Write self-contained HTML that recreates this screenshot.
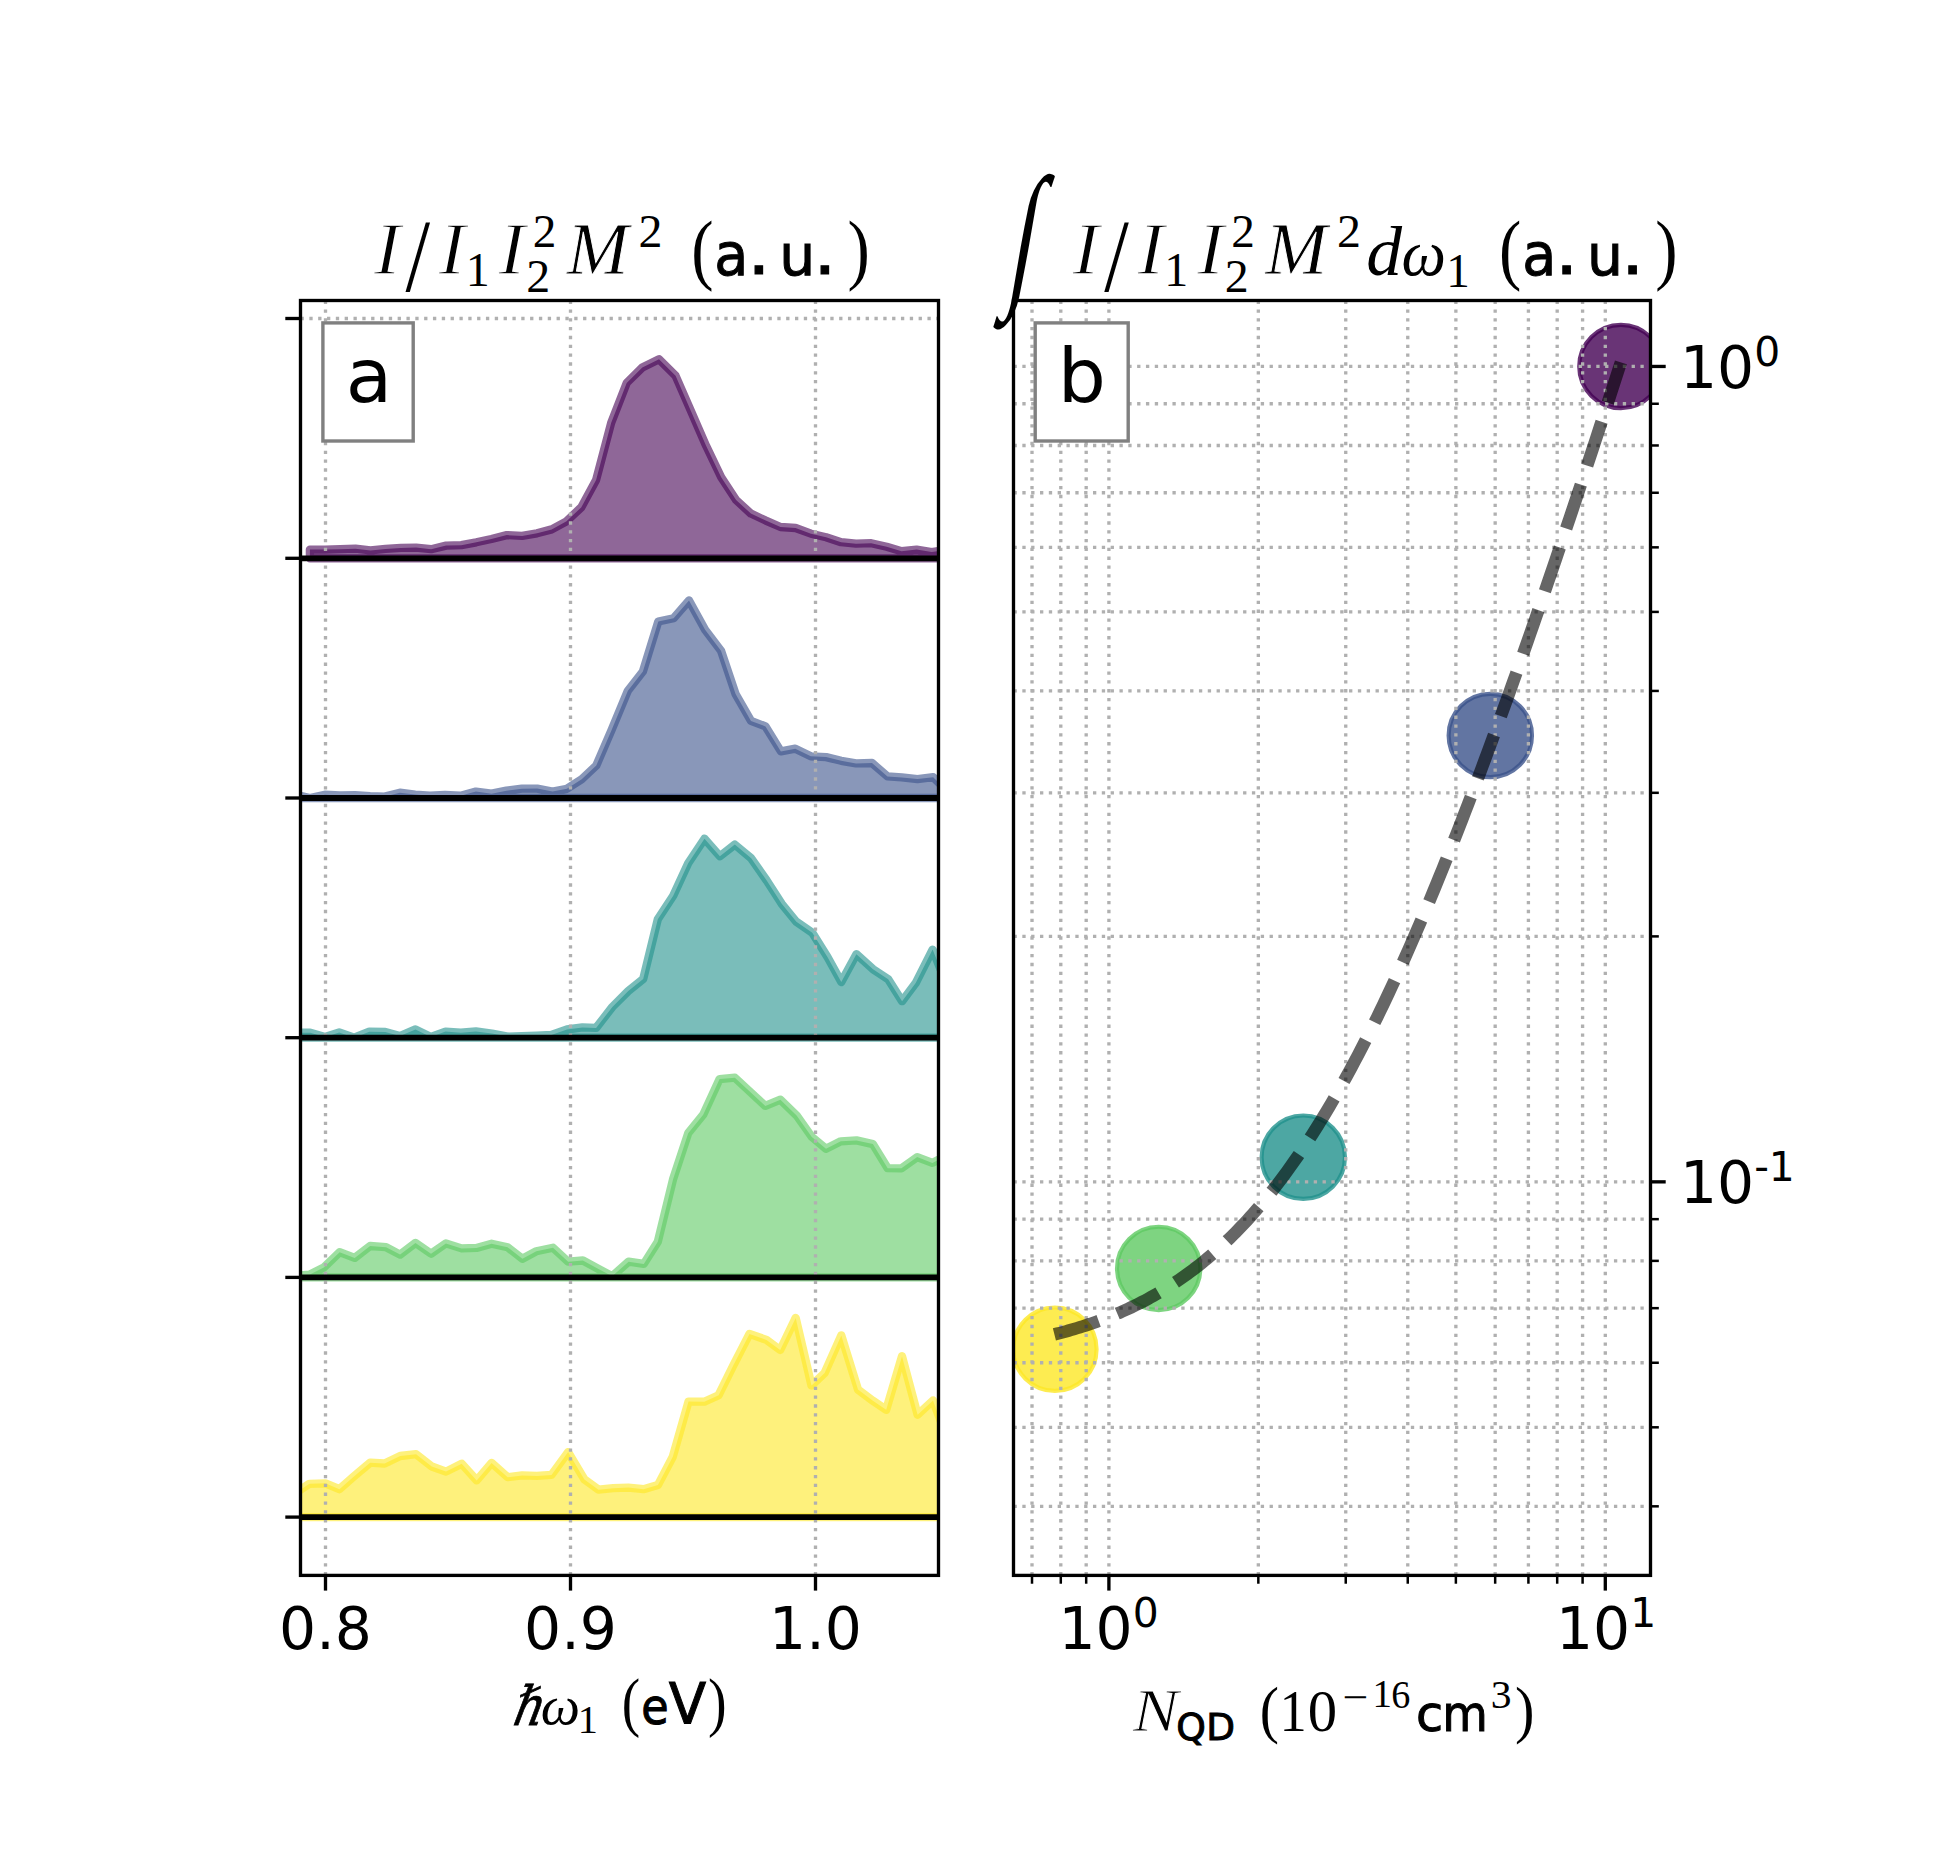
<!DOCTYPE html>
<html><head><meta charset="utf-8"><title>figure</title><style>html,body{margin:0;padding:0;background:#fff}svg{display:block}text{fill:#000}</style></head><body>
<svg width="1950" height="1875" viewBox="0 0 1950 1875">
<rect width="1950" height="1875" fill="#fff"/>
<defs><clipPath id="ca"><rect x="300.5" y="300.5" width="638.0" height="1274.9"/></clipPath><clipPath id="cb"><rect x="1013.5" y="300.5" width="637.0" height="1274.9"/></clipPath></defs>
<text transform="translate(1005.14,287.17) skewX(-10) scale(0.8273,1.4167)" font-family="Liberation Serif, serif" font-style="normal" font-size="112.00">∫</text>
<g clip-path="url(#ca)">
<path d="M309.9,549.6 L325.0,549.6 L340.1,549.2 L355.5,548.7 L370.5,550.4 L385.5,548.9 L400.8,547.9 L416.1,547.6 L431.1,549.2 L446.1,545.6 L461.3,545.2 L476.3,542.3 L491.4,539.0 L506.8,535.1 L522.1,535.9 L537.0,533.3 L551.7,529.4 L566.5,521.3 L581.2,507.4 L596.1,480.0 L611.2,422.7 L626.7,382.9 L642.3,367.5 L659.0,359.2 L675.6,375.8 L690.9,410.9 L706.1,445.8 L721.2,477.3 L736.1,500.0 L750.9,513.6 L765.8,520.6 L780.5,527.0 L795.6,528.0 L811.0,533.7 L826.1,537.2 L841.1,542.2 L856.0,543.7 L871.2,543.2 L886.7,546.7 L901.6,551.2 L916.6,549.6 L931.7,552.1 L946.6,549.7 L946.6,558.3 L309.9,558.3 Z" fill="#440154" fill-opacity="0.6" stroke="#440154" stroke-opacity="0.6" stroke-width="8.33" stroke-linejoin="round"/>
<path d="M295.2,794.8 L310.0,798.1 L324.8,794.7 L340.0,795.4 L355.1,795.1 L370.1,796.2 L384.8,796.6 L399.9,792.7 L415.2,794.6 L430.0,795.7 L445.0,794.9 L460.6,795.7 L475.9,791.6 L491.6,793.7 L506.4,790.7 L521.9,788.7 L537.2,788.6 L552.5,791.6 L566.9,788.8 L581.7,779.2 L596.3,765.5 L611.3,730.7 L627.9,690.7 L642.9,671.5 L658.3,621.5 L673.6,618.2 L689.0,600.4 L705.1,629.7 L721.0,650.7 L735.6,694.1 L751.0,720.9 L765.5,726.4 L780.9,751.4 L795.3,748.7 L810.8,756.3 L826.1,757.1 L841.2,760.8 L856.0,763.4 L872.0,763.0 L887.5,776.4 L901.9,777.4 L917.5,779.1 L933.2,777.2 L948.4,792.1 L948.4,798.0 L295.2,798.0 Z" fill="#3b528b" fill-opacity="0.6" stroke="#3b528b" stroke-opacity="0.6" stroke-width="8.33" stroke-linejoin="round"/>
<path d="M294.7,1032.7 L310.3,1032.7 L325.0,1036.9 L339.2,1032.4 L354.2,1037.7 L369.3,1031.7 L385.3,1031.9 L399.9,1036.1 L415.5,1029.4 L430.9,1036.9 L445.5,1031.6 L460.8,1032.7 L475.9,1031.4 L492.0,1033.6 L507.7,1036.6 L521.6,1036.1 L536.6,1035.7 L551.3,1035.0 L567.0,1029.5 L582.4,1027.4 L596.1,1027.9 L612.4,1006.9 L628.3,991.0 L643.2,978.9 L657.8,919.2 L673.2,895.7 L688.2,863.2 L704.5,838.7 L719.9,856.2 L734.8,844.6 L751.2,858.3 L766.7,880.5 L781.7,903.8 L796.4,921.8 L812.3,932.8 L827.6,957.2 L841.3,982.1 L856.4,954.2 L873.0,969.2 L888.2,979.3 L902.1,1001.2 L915.7,983.1 L932.6,949.6 L949.4,991.0 L949.4,1037.7 L294.7,1037.7 Z" fill="#21918c" fill-opacity="0.6" stroke="#21918c" stroke-opacity="0.6" stroke-width="8.33" stroke-linejoin="round"/>
<path d="M294.6,1275.7 L309.4,1274.7 L323.8,1267.5 L339.6,1252.2 L354.7,1257.9 L370.1,1246.0 L386.1,1247.2 L400.1,1254.6 L415.5,1242.9 L431.0,1253.7 L445.9,1243.4 L461.6,1248.4 L476.4,1247.9 L491.6,1243.7 L507.6,1247.3 L522.4,1258.7 L536.3,1251.3 L553.0,1247.7 L568.2,1261.7 L582.9,1260.5 L598.5,1269.0 L612.2,1276.2 L628.6,1261.7 L643.8,1263.9 L657.8,1241.7 L673.0,1179.4 L688.2,1133.2 L703.2,1114.7 L719.6,1079.1 L734.9,1077.7 L751.1,1092.7 L765.3,1105.9 L780.4,1099.7 L796.6,1115.4 L811.8,1136.9 L826.0,1148.7 L840.8,1141.3 L856.5,1140.4 L872.9,1144.1 L887.7,1168.2 L901.4,1168.3 L917.2,1157.1 L932.4,1162.9 L946.6,1155.6 L946.6,1277.4 L294.6,1277.4 Z" fill="#5ec962" fill-opacity="0.6" stroke="#5ec962" stroke-opacity="0.6" stroke-width="8.33" stroke-linejoin="round"/>
<path d="M293.5,1494.3 L309.4,1483.8 L325.4,1483.3 L339.4,1489.2 L353.6,1476.7 L370.1,1462.7 L384.6,1463.5 L400.2,1456.0 L416.1,1454.2 L431.8,1466.5 L446.0,1471.6 L461.7,1463.7 L476.7,1480.4 L491.6,1462.9 L507.7,1477.2 L522.1,1475.4 L536.9,1475.9 L551.5,1474.9 L568.1,1452.1 L584.4,1479.4 L598.5,1489.7 L613.2,1488.2 L628.4,1487.6 L643.5,1489.2 L657.9,1485.1 L672.8,1456.7 L688.5,1401.6 L704.3,1401.7 L718.6,1395.2 L733.1,1365.8 L749.5,1333.9 L766.5,1339.9 L780.2,1350.0 L795.7,1317.9 L811.5,1385.5 L824.6,1373.0 L841.3,1335.4 L858.0,1389.6 L872.9,1400.8 L886.2,1409.8 L902.0,1356.2 L917.6,1414.7 L933.0,1400.5 L949.5,1444.3 L949.5,1517.1 L293.5,1517.1 Z" fill="#fde725" fill-opacity="0.6" stroke="#fde725" stroke-opacity="0.6" stroke-width="8.33" stroke-linejoin="round"/>
</g>
<path d="M325.50,1575.4 V300.5" stroke="#b0b0b0" stroke-width="3.33" stroke-dasharray="3.33 5.5" fill="none" clip-path="url(#ca)"/>
<path d="M570.50,1575.4 V300.5" stroke="#b0b0b0" stroke-width="3.33" stroke-dasharray="3.33 5.5" fill="none" clip-path="url(#ca)"/>
<path d="M815.50,1575.4 V300.5" stroke="#b0b0b0" stroke-width="3.33" stroke-dasharray="3.33 5.5" fill="none" clip-path="url(#ca)"/>
<path d="M300.5,318.50 H938.5" stroke="#b0b0b0" stroke-width="3.33" stroke-dasharray="3.33 5.5" fill="none" clip-path="url(#ca)"/>
<path d="M300.5,558.30 H938.5" stroke="#b0b0b0" stroke-width="3.33" stroke-dasharray="3.33 5.5" fill="none" clip-path="url(#ca)"/>
<path d="M300.5,798.00 H938.5" stroke="#b0b0b0" stroke-width="3.33" stroke-dasharray="3.33 5.5" fill="none" clip-path="url(#ca)"/>
<path d="M300.5,1037.70 H938.5" stroke="#b0b0b0" stroke-width="3.33" stroke-dasharray="3.33 5.5" fill="none" clip-path="url(#ca)"/>
<path d="M300.5,1277.40 H938.5" stroke="#b0b0b0" stroke-width="3.33" stroke-dasharray="3.33 5.5" fill="none" clip-path="url(#ca)"/>
<path d="M300.5,1517.10 H938.5" stroke="#b0b0b0" stroke-width="3.33" stroke-dasharray="3.33 5.5" fill="none" clip-path="url(#ca)"/>
<path d="M300.5,558.3 H938.5" stroke="#000" stroke-width="5.83" fill="none"/>
<path d="M300.5,798.0 H938.5" stroke="#000" stroke-width="5.83" fill="none"/>
<path d="M300.5,1037.7 H938.5" stroke="#000" stroke-width="5.83" fill="none"/>
<path d="M300.5,1277.4 H938.5" stroke="#000" stroke-width="5.83" fill="none"/>
<path d="M300.5,1517.1 H938.5" stroke="#000" stroke-width="5.83" fill="none"/>
<path d="M325.5,1575.4 v15.2" stroke="#000" stroke-width="3.33"/>
<path d="M570.5,1575.4 v15.2" stroke="#000" stroke-width="3.33"/>
<path d="M815.5,1575.4 v15.2" stroke="#000" stroke-width="3.33"/>
<path d="M300.5,318.5 h-15.2" stroke="#000" stroke-width="3.33"/>
<path d="M300.5,558.3 h-15.2" stroke="#000" stroke-width="3.33"/>
<path d="M300.5,798.0 h-15.2" stroke="#000" stroke-width="3.33"/>
<path d="M300.5,1037.7 h-15.2" stroke="#000" stroke-width="3.33"/>
<path d="M300.5,1277.4 h-15.2" stroke="#000" stroke-width="3.33"/>
<path d="M300.5,1517.1 h-15.2" stroke="#000" stroke-width="3.33"/>
<rect x="300.5" y="300.5" width="638.0" height="1274.9" fill="none" stroke="#000" stroke-width="3.33"/>
<g clip-path="url(#cb)">
<circle cx="1620.9" cy="366.5" r="41.67" fill="#440154" fill-opacity="0.8" stroke="#440154" stroke-opacity="0.8" stroke-width="4.17"/>
<circle cx="1490.3" cy="735.5" r="41.67" fill="#3b528b" fill-opacity="0.8" stroke="#3b528b" stroke-opacity="0.8" stroke-width="4.17"/>
<circle cx="1303.3" cy="1157.2" r="41.67" fill="#21918c" fill-opacity="0.8" stroke="#21918c" stroke-opacity="0.8" stroke-width="4.17"/>
<circle cx="1158.7" cy="1268.4" r="41.67" fill="#5ec962" fill-opacity="0.8" stroke="#5ec962" stroke-opacity="0.8" stroke-width="4.17"/>
<circle cx="1054.9" cy="1349.2" r="41.67" fill="#fde725" fill-opacity="0.8" stroke="#fde725" stroke-opacity="0.8" stroke-width="4.17"/>
</g>
<path d="M1108.90,1575.4 V300.5" stroke="#b0b0b0" stroke-width="3.33" stroke-dasharray="3.33 5.5" fill="none" clip-path="url(#cb)"/>
<path d="M1605.30,1575.4 V300.5" stroke="#b0b0b0" stroke-width="3.33" stroke-dasharray="3.33 5.5" fill="none" clip-path="url(#cb)"/>
<path d="M1032.01,1575.4 V300.5" stroke="#b0b0b0" stroke-width="3.33" stroke-dasharray="3.33 5.5" fill="none" clip-path="url(#cb)"/>
<path d="M1060.79,1575.4 V300.5" stroke="#b0b0b0" stroke-width="3.33" stroke-dasharray="3.33 5.5" fill="none" clip-path="url(#cb)"/>
<path d="M1086.19,1575.4 V300.5" stroke="#b0b0b0" stroke-width="3.33" stroke-dasharray="3.33 5.5" fill="none" clip-path="url(#cb)"/>
<path d="M1258.33,1575.4 V300.5" stroke="#b0b0b0" stroke-width="3.33" stroke-dasharray="3.33 5.5" fill="none" clip-path="url(#cb)"/>
<path d="M1345.74,1575.4 V300.5" stroke="#b0b0b0" stroke-width="3.33" stroke-dasharray="3.33 5.5" fill="none" clip-path="url(#cb)"/>
<path d="M1407.76,1575.4 V300.5" stroke="#b0b0b0" stroke-width="3.33" stroke-dasharray="3.33 5.5" fill="none" clip-path="url(#cb)"/>
<path d="M1455.87,1575.4 V300.5" stroke="#b0b0b0" stroke-width="3.33" stroke-dasharray="3.33 5.5" fill="none" clip-path="url(#cb)"/>
<path d="M1495.17,1575.4 V300.5" stroke="#b0b0b0" stroke-width="3.33" stroke-dasharray="3.33 5.5" fill="none" clip-path="url(#cb)"/>
<path d="M1528.41,1575.4 V300.5" stroke="#b0b0b0" stroke-width="3.33" stroke-dasharray="3.33 5.5" fill="none" clip-path="url(#cb)"/>
<path d="M1557.19,1575.4 V300.5" stroke="#b0b0b0" stroke-width="3.33" stroke-dasharray="3.33 5.5" fill="none" clip-path="url(#cb)"/>
<path d="M1582.59,1575.4 V300.5" stroke="#b0b0b0" stroke-width="3.33" stroke-dasharray="3.33 5.5" fill="none" clip-path="url(#cb)"/>
<path d="M1013.5,366.45 H1650.5" stroke="#b0b0b0" stroke-width="3.33" stroke-dasharray="3.33 5.5" fill="none" clip-path="url(#cb)"/>
<path d="M1013.5,1181.85 H1650.5" stroke="#b0b0b0" stroke-width="3.33" stroke-dasharray="3.33 5.5" fill="none" clip-path="url(#cb)"/>
<path d="M1013.5,403.76 H1650.5" stroke="#b0b0b0" stroke-width="3.33" stroke-dasharray="3.33 5.5" fill="none" clip-path="url(#cb)"/>
<path d="M1013.5,445.47 H1650.5" stroke="#b0b0b0" stroke-width="3.33" stroke-dasharray="3.33 5.5" fill="none" clip-path="url(#cb)"/>
<path d="M1013.5,492.76 H1650.5" stroke="#b0b0b0" stroke-width="3.33" stroke-dasharray="3.33 5.5" fill="none" clip-path="url(#cb)"/>
<path d="M1013.5,547.35 H1650.5" stroke="#b0b0b0" stroke-width="3.33" stroke-dasharray="3.33 5.5" fill="none" clip-path="url(#cb)"/>
<path d="M1013.5,611.91 H1650.5" stroke="#b0b0b0" stroke-width="3.33" stroke-dasharray="3.33 5.5" fill="none" clip-path="url(#cb)"/>
<path d="M1013.5,690.93 H1650.5" stroke="#b0b0b0" stroke-width="3.33" stroke-dasharray="3.33 5.5" fill="none" clip-path="url(#cb)"/>
<path d="M1013.5,792.81 H1650.5" stroke="#b0b0b0" stroke-width="3.33" stroke-dasharray="3.33 5.5" fill="none" clip-path="url(#cb)"/>
<path d="M1013.5,936.39 H1650.5" stroke="#b0b0b0" stroke-width="3.33" stroke-dasharray="3.33 5.5" fill="none" clip-path="url(#cb)"/>
<path d="M1013.5,1219.16 H1650.5" stroke="#b0b0b0" stroke-width="3.33" stroke-dasharray="3.33 5.5" fill="none" clip-path="url(#cb)"/>
<path d="M1013.5,1260.87 H1650.5" stroke="#b0b0b0" stroke-width="3.33" stroke-dasharray="3.33 5.5" fill="none" clip-path="url(#cb)"/>
<path d="M1013.5,1308.16 H1650.5" stroke="#b0b0b0" stroke-width="3.33" stroke-dasharray="3.33 5.5" fill="none" clip-path="url(#cb)"/>
<path d="M1013.5,1362.75 H1650.5" stroke="#b0b0b0" stroke-width="3.33" stroke-dasharray="3.33 5.5" fill="none" clip-path="url(#cb)"/>
<path d="M1013.5,1427.31 H1650.5" stroke="#b0b0b0" stroke-width="3.33" stroke-dasharray="3.33 5.5" fill="none" clip-path="url(#cb)"/>
<path d="M1013.5,1506.33 H1650.5" stroke="#b0b0b0" stroke-width="3.33" stroke-dasharray="3.33 5.5" fill="none" clip-path="url(#cb)"/>
<path d="M1054.40,1334.40 L1057.23,1333.68 L1060.07,1332.94 L1062.90,1332.19 L1065.73,1331.41 L1068.56,1330.62 L1071.40,1329.81 L1074.23,1328.98 L1077.06,1328.13 L1079.89,1327.25 L1082.73,1326.36 L1085.56,1325.45 L1088.39,1324.51 L1091.22,1323.55 L1094.06,1322.57 L1096.89,1321.57 L1099.72,1320.54 L1102.55,1319.48 L1105.38,1318.41 L1108.22,1317.30 L1111.05,1316.17 L1113.88,1315.02 L1116.72,1313.84 L1119.55,1312.63 L1122.38,1311.39 L1125.21,1310.12 L1128.05,1308.83 L1130.88,1307.50 L1133.71,1306.15 L1136.54,1304.76 L1139.38,1303.35 L1142.21,1301.90 L1145.04,1300.42 L1147.87,1298.90 L1150.71,1297.36 L1153.54,1295.78 L1156.37,1294.16 L1159.20,1292.51 L1162.04,1290.82 L1164.87,1289.09 L1167.70,1287.33 L1170.53,1285.53 L1173.37,1283.70 L1176.20,1281.82 L1179.03,1279.90 L1181.86,1277.94 L1184.70,1275.95 L1187.53,1273.91 L1190.36,1271.83 L1193.19,1269.70 L1196.03,1267.53 L1198.86,1265.32 L1201.69,1263.06 L1204.52,1260.76 L1207.36,1258.42 L1210.19,1256.02 L1213.02,1253.58 L1215.85,1251.09 L1218.69,1248.56 L1221.52,1245.97 L1224.35,1243.34 L1227.18,1240.65 L1230.02,1237.92 L1232.85,1235.13 L1235.68,1232.29 L1238.51,1229.40 L1241.35,1226.46 L1244.18,1223.46 L1247.01,1220.41 L1249.84,1217.31 L1252.68,1214.15 L1255.51,1210.94 L1258.34,1207.67 L1261.17,1204.35 L1264.01,1200.97 L1266.84,1197.53 L1269.67,1194.03 L1272.50,1190.48 L1275.34,1186.87 L1278.17,1183.20 L1281.00,1179.48 L1283.83,1175.69 L1286.66,1171.84 L1289.50,1167.94 L1292.33,1163.98 L1295.16,1159.95 L1298.00,1155.87 L1300.83,1151.72 L1303.66,1147.52 L1306.49,1143.25 L1309.33,1138.93 L1312.16,1134.54 L1314.99,1130.09 L1317.82,1125.58 L1320.66,1121.01 L1323.49,1116.38 L1326.32,1111.69 L1329.15,1106.94 L1331.99,1102.12 L1334.82,1097.25 L1337.65,1092.31 L1340.48,1087.31 L1343.32,1082.25 L1346.15,1077.13 L1348.98,1071.95 L1351.81,1066.72 L1354.64,1061.42 L1357.48,1056.06 L1360.31,1050.64 L1363.14,1045.16 L1365.98,1039.62 L1368.81,1034.03 L1371.64,1028.37 L1374.47,1022.66 L1377.31,1016.89 L1380.14,1011.06 L1382.97,1005.17 L1385.80,999.23 L1388.63,993.23 L1391.47,987.18 L1394.30,981.07 L1397.13,974.91 L1399.97,968.69 L1402.80,962.42 L1405.63,956.09 L1408.46,949.71 L1411.30,943.28 L1414.13,936.80 L1416.96,930.26 L1419.79,923.68 L1422.62,917.04 L1425.46,910.36 L1428.29,903.62 L1431.12,896.84 L1433.96,890.01 L1436.79,883.13 L1439.62,876.20 L1442.45,869.23 L1445.29,862.21 L1448.12,855.15 L1450.95,848.04 L1453.78,840.89 L1456.62,833.70 L1459.45,826.46 L1462.28,819.18 L1465.11,811.86 L1467.95,804.50 L1470.78,797.10 L1473.61,789.66 L1476.44,782.18 L1479.28,774.67 L1482.11,767.11 L1484.94,759.52 L1487.77,751.89 L1490.61,744.23 L1493.44,736.53 L1496.27,728.79 L1499.10,721.02 L1501.94,713.22 L1504.77,705.39 L1507.60,697.52 L1510.43,689.62 L1513.27,681.69 L1516.10,673.73 L1518.93,665.74 L1521.76,657.72 L1524.60,649.68 L1527.43,641.60 L1530.26,633.50 L1533.09,625.36 L1535.93,617.21 L1538.76,609.02 L1541.59,600.81 L1544.42,592.58 L1547.26,584.32 L1550.09,576.03 L1552.92,567.73 L1555.75,559.39 L1558.59,551.04 L1561.42,542.67 L1564.25,534.27 L1567.08,525.85 L1569.91,517.41 L1572.75,508.95 L1575.58,500.47 L1578.41,491.97 L1581.25,483.45 L1584.08,474.91 L1586.91,466.36 L1589.74,457.79 L1592.58,449.19 L1595.41,440.59 L1598.24,431.96 L1601.07,423.32 L1603.91,414.66 L1606.74,405.99 L1609.57,397.30 L1612.40,388.60 L1615.24,379.88 L1618.07,371.15 L1620.90,362.40" fill="none" stroke="#000" stroke-opacity="0.6" stroke-width="12.5" stroke-dasharray="46.25 20" clip-path="url(#cb)"/>
<path d="M1108.90,1575.4 v15.2" stroke="#000" stroke-width="3.33"/>
<path d="M1605.30,1575.4 v15.2" stroke="#000" stroke-width="3.33"/>
<path d="M1032.01,1575.4 v8.33" stroke="#000" stroke-width="2.5"/>
<path d="M1060.79,1575.4 v8.33" stroke="#000" stroke-width="2.5"/>
<path d="M1086.19,1575.4 v8.33" stroke="#000" stroke-width="2.5"/>
<path d="M1258.33,1575.4 v8.33" stroke="#000" stroke-width="2.5"/>
<path d="M1345.74,1575.4 v8.33" stroke="#000" stroke-width="2.5"/>
<path d="M1407.76,1575.4 v8.33" stroke="#000" stroke-width="2.5"/>
<path d="M1455.87,1575.4 v8.33" stroke="#000" stroke-width="2.5"/>
<path d="M1495.17,1575.4 v8.33" stroke="#000" stroke-width="2.5"/>
<path d="M1528.41,1575.4 v8.33" stroke="#000" stroke-width="2.5"/>
<path d="M1557.19,1575.4 v8.33" stroke="#000" stroke-width="2.5"/>
<path d="M1582.59,1575.4 v8.33" stroke="#000" stroke-width="2.5"/>
<path d="M1650.5,366.45 h15.2" stroke="#000" stroke-width="3.33"/>
<path d="M1650.5,1181.85 h15.2" stroke="#000" stroke-width="3.33"/>
<path d="M1650.5,403.76 h8.33" stroke="#000" stroke-width="2.5"/>
<path d="M1650.5,445.47 h8.33" stroke="#000" stroke-width="2.5"/>
<path d="M1650.5,492.76 h8.33" stroke="#000" stroke-width="2.5"/>
<path d="M1650.5,547.35 h8.33" stroke="#000" stroke-width="2.5"/>
<path d="M1650.5,611.91 h8.33" stroke="#000" stroke-width="2.5"/>
<path d="M1650.5,690.93 h8.33" stroke="#000" stroke-width="2.5"/>
<path d="M1650.5,792.81 h8.33" stroke="#000" stroke-width="2.5"/>
<path d="M1650.5,936.39 h8.33" stroke="#000" stroke-width="2.5"/>
<path d="M1650.5,1219.16 h8.33" stroke="#000" stroke-width="2.5"/>
<path d="M1650.5,1260.87 h8.33" stroke="#000" stroke-width="2.5"/>
<path d="M1650.5,1308.16 h8.33" stroke="#000" stroke-width="2.5"/>
<path d="M1650.5,1362.75 h8.33" stroke="#000" stroke-width="2.5"/>
<path d="M1650.5,1427.31 h8.33" stroke="#000" stroke-width="2.5"/>
<path d="M1650.5,1506.33 h8.33" stroke="#000" stroke-width="2.5"/>
<rect x="1013.5" y="300.5" width="637.0" height="1274.9" fill="none" stroke="#000" stroke-width="3.33"/>
<rect x="322.9" y="322.9" width="90.3" height="118.1" fill="#fff" stroke="#808080" stroke-width="3.4"/>
<rect x="1035.2" y="322.9" width="93" height="118.1" fill="#fff" stroke="#808080" stroke-width="3.4"/>
<text transform="translate(345.75,401.75) scale(1.0214,1.0000)" font-family="DejaVu Sans, sans-serif" font-style="normal" font-size="74.19">a</text>
<text transform="translate(1057.71,401.74) scale(1.0153,1.0000)" font-family="DejaVu Sans, sans-serif" font-style="normal" font-size="74.68">b</text>
<text x="325.50" y="1649.20" font-family="DejaVu Sans, sans-serif" font-size="58.33" text-anchor="middle">0.8</text>
<text x="570.50" y="1649.20" font-family="DejaVu Sans, sans-serif" font-size="58.33" text-anchor="middle">0.9</text>
<text x="815.50" y="1649.20" font-family="DejaVu Sans, sans-serif" font-size="58.33" text-anchor="middle">1.0</text>
<text x="1058.40" y="1649.40" font-family="DejaVu Sans, sans-serif" font-size="58.33">10<tspan font-size="40.83" dy="-22.5">0</tspan></text>
<text x="1555.90" y="1649.40" font-family="DejaVu Sans, sans-serif" font-size="58.33">10<tspan font-size="40.83" dy="-22.5">1</tspan></text>
<text x="1679.90" y="388.10" font-family="DejaVu Sans, sans-serif" font-size="58.33">10<tspan font-size="40.83" dy="-22.5">0</tspan></text>
<text x="1679.90" y="1203.30" font-family="DejaVu Sans, sans-serif" font-size="58.33">10<tspan font-size="40.83" dy="-22.5">-1</tspan></text>
<text transform="translate(373.75,274.30) scale(1.1200,1.0000)" font-family="Liberation Serif, serif" font-style="italic" font-size="73.00" stroke="#fff" stroke-width="1.5">I</text>
<text transform="translate(405.62,290.99) scale(1.3000,1.5279)" font-family="Liberation Serif, serif" font-style="normal" font-size="68.00">/</text>
<text transform="translate(438.60,274.30) scale(1.1200,1.0000)" font-family="Liberation Serif, serif" font-style="italic" font-size="73.00" stroke="#fff" stroke-width="1.5">I</text>
<text transform="translate(465.68,285.80) scale(1.0029,1.0000)" font-family="Liberation Serif, serif" font-style="normal" font-size="47.87">1</text>
<text transform="translate(498.30,274.30) scale(1.1200,1.0000)" font-family="Liberation Serif, serif" font-style="italic" font-size="73.00" stroke="#fff" stroke-width="1.5">I</text>
<text transform="translate(532.73,247.00) scale(1.0070,1.0000)" font-family="Liberation Serif, serif" font-style="normal" font-size="46.82">2</text>
<text transform="translate(526.20,292.00) scale(1.0230,1.0000)" font-family="Liberation Serif, serif" font-style="normal" font-size="46.82">2</text>
<text transform="translate(566.67,274.30) scale(1.0197,1.0000)" font-family="Liberation Serif, serif" font-style="italic" font-size="73.00" stroke="#fff" stroke-width="0.9">M</text>
<text transform="translate(638.40,247.00) scale(1.0230,1.0000)" font-family="Liberation Serif, serif" font-style="normal" font-size="46.82">2</text>
<text transform="translate(691.30,275.21) scale(0.8500,1.0000)" font-family="Liberation Serif, serif" font-style="normal" font-size="78.85">(</text>
<text transform="translate(714.36,274.77) scale(0.9452,1.0000)" font-family="DejaVu Sans, sans-serif" font-style="normal" font-size="58.86" stroke="#000" stroke-width="1.0">a</text>
<text transform="translate(747.26,274.30) scale(1.1200,1.0000)" font-family="DejaVu Sans, sans-serif" font-style="normal" font-size="65.31" stroke="#000" stroke-width="1.0">.</text>
<text transform="translate(779.28,274.80)" font-family="DejaVu Sans, sans-serif" font-style="normal" font-size="56.77" stroke="#000" stroke-width="1.0">u</text>
<text transform="translate(813.26,274.30) scale(1.1200,1.0000)" font-family="DejaVu Sans, sans-serif" font-style="normal" font-size="65.31" stroke="#000" stroke-width="1.0">.</text>
<text transform="translate(847.53,275.21) scale(0.8500,1.0000)" font-family="Liberation Serif, serif" font-style="normal" font-size="78.85">)</text>
<text transform="translate(1072.35,274.30) scale(1.1200,1.0000)" font-family="Liberation Serif, serif" font-style="italic" font-size="73.00" stroke="#fff" stroke-width="1.5">I</text>
<text transform="translate(1104.22,290.99) scale(1.3000,1.5279)" font-family="Liberation Serif, serif" font-style="normal" font-size="68.00">/</text>
<text transform="translate(1137.20,274.30) scale(1.1200,1.0000)" font-family="Liberation Serif, serif" font-style="italic" font-size="73.00" stroke="#fff" stroke-width="1.5">I</text>
<text transform="translate(1164.28,285.80) scale(1.0029,1.0000)" font-family="Liberation Serif, serif" font-style="normal" font-size="47.87">1</text>
<text transform="translate(1196.90,274.30) scale(1.1200,1.0000)" font-family="Liberation Serif, serif" font-style="italic" font-size="73.00" stroke="#fff" stroke-width="1.5">I</text>
<text transform="translate(1231.33,247.00) scale(1.0070,1.0000)" font-family="Liberation Serif, serif" font-style="normal" font-size="46.82">2</text>
<text transform="translate(1224.80,292.00) scale(1.0230,1.0000)" font-family="Liberation Serif, serif" font-style="normal" font-size="46.82">2</text>
<text transform="translate(1265.27,274.30) scale(1.0197,1.0000)" font-family="Liberation Serif, serif" font-style="italic" font-size="73.00" stroke="#fff" stroke-width="0.9">M</text>
<text transform="translate(1337.00,247.00) scale(1.0230,1.0000)" font-family="Liberation Serif, serif" font-style="normal" font-size="46.82">2</text>
<text transform="translate(1499.10,275.21) scale(0.8500,1.0000)" font-family="Liberation Serif, serif" font-style="normal" font-size="78.85">(</text>
<text transform="translate(1522.16,274.77) scale(0.9452,1.0000)" font-family="DejaVu Sans, sans-serif" font-style="normal" font-size="58.86" stroke="#000" stroke-width="1.0">a</text>
<text transform="translate(1555.06,274.30) scale(1.1200,1.0000)" font-family="DejaVu Sans, sans-serif" font-style="normal" font-size="65.31" stroke="#000" stroke-width="1.0">.</text>
<text transform="translate(1587.08,274.80)" font-family="DejaVu Sans, sans-serif" font-style="normal" font-size="56.77" stroke="#000" stroke-width="1.0">u</text>
<text transform="translate(1621.06,274.30) scale(1.1200,1.0000)" font-family="DejaVu Sans, sans-serif" font-style="normal" font-size="65.31" stroke="#000" stroke-width="1.0">.</text>
<text transform="translate(1655.33,275.21) scale(0.8500,1.0000)" font-family="Liberation Serif, serif" font-style="normal" font-size="78.85">)</text>
<text transform="translate(1366.23,274.88) scale(1.0162,1.0000)" font-family="Liberation Serif, serif" font-style="italic" font-size="70.44">d</text>
<text transform="translate(1401.41,274.97) scale(0.9688,1.0000)" font-family="Liberation Serif, serif" font-style="italic" font-size="64.99">ω</text>
<text transform="translate(1446.36,286.90) scale(0.9913,1.0000)" font-family="Liberation Serif, serif" font-style="normal" font-size="47.56">1</text>
<text transform="translate(511.78,1724.60) skewX(-12) scale(0.8500,1.0000)" font-family="DejaVu Serif, serif" font-style="normal" font-size="54.23" stroke="#000" stroke-width="0.8">ℏ</text>
<text transform="translate(540.65,1724.46) scale(1.0011,1.0000)" font-family="Liberation Serif, serif" font-style="italic" font-size="55.59">ω</text>
<text transform="translate(577.65,1733.20) scale(1.0321,1.0000)" font-family="Liberation Serif, serif" font-style="normal" font-size="39.08">1</text>
<text transform="translate(621.87,1724.46) scale(0.8570,1.0000)" font-family="Liberation Serif, serif" font-style="normal" font-size="64.52">(</text>
<text transform="translate(641.34,1724.31) scale(0.9112,1.0000)" font-family="DejaVu Sans, sans-serif" font-style="normal" font-size="48.94" stroke="#000" stroke-width="1.0">e</text>
<text transform="translate(668.77,1724.20) scale(0.9648,1.0000)" font-family="DejaVu Sans, sans-serif" font-style="normal" font-size="56.79" stroke="#000" stroke-width="1.0">V</text>
<text transform="translate(707.99,1724.46) scale(0.8690,1.0000)" font-family="Liberation Serif, serif" font-style="normal" font-size="64.52">)</text>
<text transform="translate(1132.69,1731.00) scale(1.1200,1.0000)" font-family="Liberation Serif, serif" font-style="italic" font-size="61.24" stroke="#fff" stroke-width="0.9">N</text>
<text transform="translate(1176.29,1740.11) scale(1.0120,1.0000)" font-family="DejaVu Sans, sans-serif" font-style="normal" font-size="37.19" stroke="#000" stroke-width="1.0">Q</text>
<text transform="translate(1206.33,1739.80) scale(1.0127,1.0000)" font-family="DejaVu Sans, sans-serif" font-style="normal" font-size="36.90" stroke="#000" stroke-width="1.0">D</text>
<text transform="translate(1259.67,1731.19) scale(0.8947,1.0000)" font-family="Liberation Serif, serif" font-style="normal" font-size="64.41">(</text>
<text transform="translate(1279.51,1731.00) scale(0.9232,1.0000)" font-family="Liberation Serif, serif" font-style="normal" font-size="59.08">1</text>
<text transform="translate(1307.86,1731.22) scale(0.9961,1.0000)" font-family="Liberation Serif, serif" font-style="normal" font-size="58.98">0</text>
<text transform="translate(1342.49,1711.23) scale(1.1200,1.0000)" font-family="Liberation Serif, serif" font-style="normal" font-size="40.80">−</text>
<text transform="translate(1372.38,1707.40) scale(0.9957,1.0000)" font-family="Liberation Serif, serif" font-style="normal" font-size="39.08">1</text>
<text transform="translate(1391.36,1707.52) scale(0.9746,1.0000)" font-family="Liberation Serif, serif" font-style="normal" font-size="39.14">6</text>
<text transform="translate(1416.07,1730.99) scale(0.9897,1.0000)" font-family="DejaVu Sans, sans-serif" font-style="normal" font-size="49.98" stroke="#000" stroke-width="1.0">c</text>
<text transform="translate(1442.15,1731.00) scale(0.9370,1.0000)" font-family="DejaVu Sans, sans-serif" font-style="normal" font-size="49.99" stroke="#000" stroke-width="1.0">m</text>
<text transform="translate(1490.71,1707.52) scale(1.0637,1.0000)" font-family="Liberation Serif, serif" font-style="normal" font-size="39.14">3</text>
<text transform="translate(1515.02,1731.19) scale(0.9068,1.0000)" font-family="Liberation Serif, serif" font-style="normal" font-size="64.41">)</text>
</svg>
</body></html>
